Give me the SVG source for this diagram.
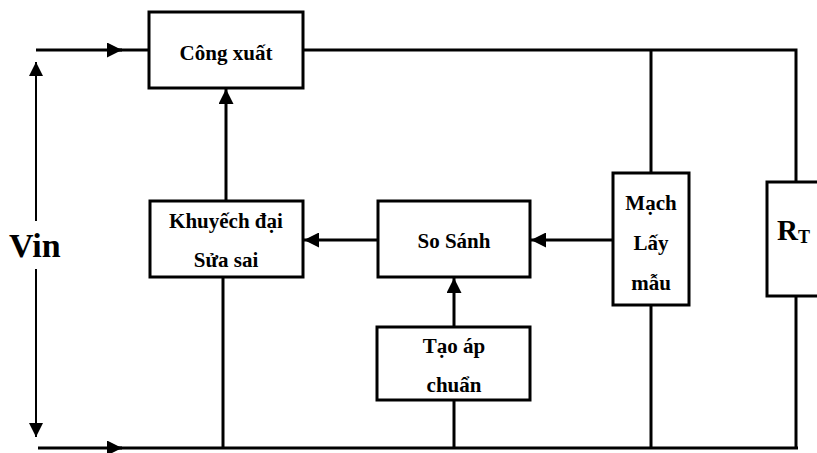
<svg xmlns="http://www.w3.org/2000/svg" width="817" height="453" viewBox="0 0 817 453">
<defs>
<style>
.box{fill:#fff;stroke:#000;stroke-width:3}
.w{fill:none;stroke:#000;stroke-width:3}
.t{font-family:"Liberation Serif",serif;font-weight:bold;font-size:21px;text-anchor:middle;fill:#000}
</style>
<marker id="ah" viewBox="0 0 10 10" refX="10" refY="5" markerWidth="5" markerHeight="5" orient="auto" markerUnits="strokeWidth"><path d="M0,0 L10,5 L0,10 z" fill="#000"/></marker>
<marker id="ah2" viewBox="0 0 10 10" refX="10" refY="5" markerWidth="7" markerHeight="7" orient="auto" markerUnits="strokeWidth"><path d="M0,0 L10,5 L0,10 z" fill="#000"/></marker>
</defs>
<g id="connectors">
<line class="w" x1="36" y1="50" x2="122" y2="50" marker-end="url(#ah)"/>
<line class="w" x1="118" y1="50" x2="149" y2="50"/>
<polyline class="w" points="303,50 796,50 796,182"/>
<line class="w" x1="651" y1="50" x2="651" y2="173"/>
<line class="w" x1="38" y1="448" x2="122" y2="448" marker-end="url(#ah)"/>
<line class="w" x1="118" y1="448" x2="798" y2="448"/>
<line class="w" x1="796" y1="296" x2="796" y2="448"/>
<line class="w" x1="651" y1="305" x2="651" y2="448"/>
<line class="w" x1="454" y1="400" x2="454" y2="448"/>
<line class="w" x1="223" y1="277" x2="223" y2="448"/>
<line class="w" x1="226" y1="201" x2="226" y2="89" marker-end="url(#ah)"/>
<line class="w" x1="378" y1="240" x2="304" y2="240" marker-end="url(#ah)"/>
<line class="w" x1="613" y1="240" x2="531" y2="240" marker-end="url(#ah)"/>
<line class="w" x1="454" y1="327" x2="454" y2="278" marker-end="url(#ah)"/>
<line x1="36" y1="250" x2="36" y2="62" stroke="#000" stroke-width="2" marker-end="url(#ah2)"/>
<line x1="36" y1="250" x2="36" y2="437" stroke="#000" stroke-width="2" marker-end="url(#ah2)"/>
</g>
<g id="cong-xuat">
<rect class="box" x="149" y="12" width="154" height="76"/>
<text class="t" x="226" y="60">Công xuất</text>
</g>
<g id="khuyech-dai">
<rect class="box" x="150" y="201" width="153" height="76"/>
<text class="t" x="226" y="228">Khuyếch đại</text>
<text class="t" x="226" y="267">Sửa sai</text>
</g>
<g id="so-sanh">
<rect class="box" x="378" y="201" width="152" height="76"/>
<text class="t" x="454" y="248">So Sánh</text>
</g>
<g id="tao-ap-chuan">
<rect class="box" x="377" y="327" width="153" height="73"/>
<text class="t" x="454" y="353">Tạo áp</text>
<text class="t" x="454" y="392">chuẩn</text>
</g>
<g id="mach-lay-mau">
<rect class="box" x="613" y="173" width="76" height="132"/>
<text class="t" x="651" y="210">Mạch</text>
<text class="t" x="651" y="250">Lấy</text>
<text class="t" x="651" y="290">mẫu</text>
</g>
<g id="rt">
<rect class="box" x="767" y="182" width="70" height="114"/>
<text x="777" y="240" font-family="Liberation Serif, serif" font-weight="bold" font-size="29">R<tspan font-size="18" dy="3">T</tspan></text>
</g>
<g id="vin">
<rect x="6" y="221" width="60" height="48" fill="#fff"/>
<text x="9" y="257" font-family="Liberation Serif, serif" font-weight="bold" font-size="34">Vin</text>
</g>
</svg>
